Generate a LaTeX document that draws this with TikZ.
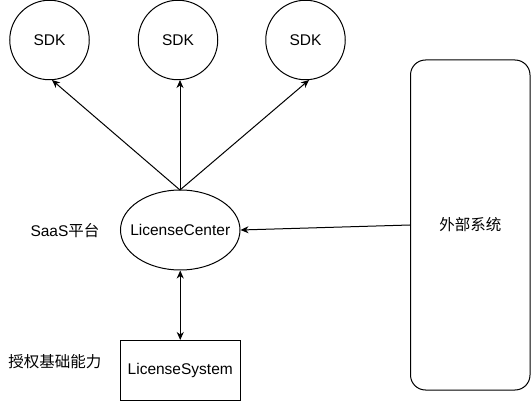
\documentclass[tikz,border=0pt]{standalone}
\usepackage{fontspec}
\setmainfont{Liberation Sans}
\newfontfamily\cjk{Noto Sans CJK SC}
\usetikzlibrary{arrows.meta,shapes.geometric}
\begin{document}
\begin{tikzpicture}[x=1pt,y=-1pt,
  every node/.style={font=\fontsize{15.5}{18}\selectfont, inner sep=0pt},
  sdk/.style={draw, line width=1pt, circle, minimum size=79.5pt},
  ell/.style={draw, line width=1pt, ellipse, minimum width=119.5pt, minimum height=80pt},
  boxnode/.style={draw, line width=1pt, rectangle, minimum width=119.5pt, minimum height=59.5pt},
  extnode/.style={draw, line width=1pt, rectangle, rounded corners=15pt, minimum width=119.5pt, minimum height=330pt},
  conn/.style={line width=1pt, -{Stealth[length=8pt,width=7pt,inset=2.5pt]}},
  dconn/.style={line width=1pt, {Stealth[length=8pt,width=7pt,inset=2.5pt]}-{Stealth[length=8pt,width=7pt,inset=2.5pt]}}
]
\useasboundingbox (0,0) rectangle (531,401);
\node[sdk] (s1) at (49.5,40) {SDK};
\node[sdk] (s2) at (178,40) {SDK};
\node[sdk] (s3) at (305.5,40) {SDK};
\node[ell] (lc) at (180.25,230) {\makebox[0pt]{LicenseCenter}};
\node[boxnode] (ls) at (180.25,370.25) {LicenseSystem};
\node[extnode] (ext) at (470.25,225) {\cjk 外部系统};
\node (saas) at (65,231) {SaaS{\cjk 平台}};
\node (base) at (55,362) {\cjk 授权基础能力};
\coordinate (top) at (180,190);
\coordinate (e1) at (52,80);
\coordinate (e2) at (180,80);
\coordinate (e3) at (309,80);
\draw[conn] (top) -- (e1);
\draw[conn] (top) -- (e2);
\draw[conn] (top) -- (e3);
\draw[conn] (ext.west) -- (lc.east);
\draw[dconn] (lc.south) -- (ls.north);
\end{tikzpicture}
\end{document}
